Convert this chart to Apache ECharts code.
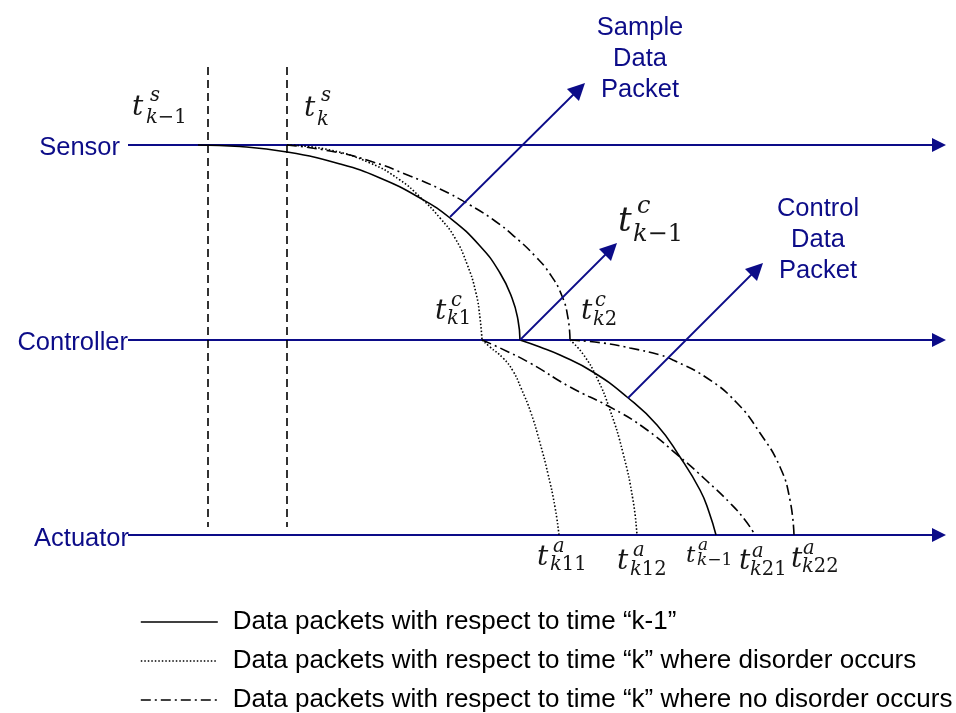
<!DOCTYPE html>
<html><head><meta charset="utf-8">
<script src="https://cdn.jsdelivr.net/npm/echarts@6/dist/echarts.min.js"></script>
<style>html,body{margin:0;padding:0;background:#fff}#c{width:956px;height:713px}</style>
</head><body><div id="c"></div>
<script>
// ---------- data (diagram units = time along x, lane position along y) ----------
const laneNames = ['Sensor', 'Controller', 'Actuator'];
const laneY = [145, 340, 535];
const laneSpan = [128, 946];
const sampleInstants = [208, 287];
const sampleSpan = [67, 527];

const legendNames = [
  'Data packets with respect to time “k-1”',
  'Data packets with respect to time “k” where disorder occurs',
  'Data packets with respect to time “k” where no disorder occurs'
];

// packet k-1 (solid)
const prevSensorToCtrl = [[198,145],[240,146.5],[287,152],[340,164],[380,178],[420,198],[450,218],[480,246],[500,273],[512,298],[518,320],[520,340]];
const prevCtrlToAct = [[520,340],[540,347],[560,355],[593,372],[627,397],[657,425],[680,457],[700,490],[709,512],[716,535]];
// packet k, disorder (dotted)
const disorderSensorToCtrl = [[287,145],[330,150],[370,163],[400,180],[420,197],[440,218],[455,238],[467,264],[476,293],[480,318],[482,340]];
const disorderCtrlToAct1 = [[482,340],[490,347],[503,358],[513,371],[521,388],[531,413],[540,443],[548,474],[555,507],[559,535]];
const disorderCtrlToAct2 = [[570,340],[583,354],[597,378],[610,410],[623,453],[633,500],[637,535]];
// packet k, no disorder (dash-dot)
const orderSensorToCtrl = [[287,145],[330,151],[370,161],[410,176],[440,189],[470,205],[495,221],[515,237],[535,256],[550,274],[562,296],[568,318],[570,340]];
const orderCtrlToAct1 = [[482,340],[500,348],[530,363],[570,387],[610,407],[643,427],[680,457],[707,481],[730,503],[745,520],[755,535]];
const orderCtrlToAct2 = [[570,340],[603,343],[630,348],[660,355],[673,360],[707,378],[737,403],[760,433],[780,467],[790,500],[794,535]];

// packet arrows: [from, to]
const packetArrows = [[[450,217],[585,83]], [[520,340],[617,243]], [[628,398],[763,263]]];

// time labels: main symbol, superscript, subscript, anchor positions [t, sup, sub]
const timeLabelSup = ['s','s','c','c','c','a','a','a','a','a'];
const timeLabelSub = ['k−1','k','k−1','k1','k2','k11','k12','k−1','k21','k22'];
const timeLabelT   = [[132,108],[304,109],[618,222],[435,312],[581,312],[537,558],[617,562],[686,556],[739,562],[791,560]];
const timeLabelSupPos = [[150,96],[321,96],[637,207],[451,301],[595,301],[553,547],[633,551],[698,546],[752,552],[803,549]];
const timeLabelSubPos = [[146,118],[317,120],[633,235],[447,319],[593,320],[550,565],[630,570],[697,561],[750,570],[802,567]];
const timeLabelSize = ['m','m','l','m','m','m','m','s','m','m'];

const laneLabelPos = [[120,148],[128,343],[129,539]];
const packetTexts = ['Sample\nData\nPacket', 'Control\nData\nPacket'];
const packetTextPos = [[640,59],[818,240]];

// ---------- styles ----------
const NAVY = '#0c0c88';
const INK = '#161616';
const SANS = '"Liberation Sans", Arial, sans-serif';
const SERIF = '"DejaVu Serif", serif';
const sizes = { s: [23, 17], m: [28, 19.5], l: [34, 24] };

function richSub(txt) {
  // italic letters, upright digits and minus
  return txt.replace(/([a-z])/g, '{i|$1}').replace(/([0-9−]+)/g, '{n|$1}');
}

const labelData = [];
laneNames.forEach((n, i) => labelData.push({
  value: laneLabelPos[i],
  label: { formatter: n, align: 'right', fontSize: 25.5, color: NAVY, fontFamily: SANS }
}));
packetTexts.forEach((t, i) => labelData.push({
  value: packetTextPos[i],
  label: { formatter: t, align: 'center', fontSize: 25.5, lineHeight: 31, color: NAVY, fontFamily: SANS }
}));
timeLabelT.forEach((p, i) => {
  const [big, small] = sizes[timeLabelSize[i]];
  labelData.push({ value: p, label: { formatter: 't', align: 'left', fontSize: big, fontStyle: 'italic', color: INK, fontFamily: SERIF } });
  labelData.push({ value: timeLabelSupPos[i], label: { formatter: timeLabelSup[i], align: 'left', fontSize: small, fontStyle: 'italic', color: INK, fontFamily: SERIF } });
  labelData.push({ value: timeLabelSubPos[i], label: {
    formatter: richSub(timeLabelSub[i]), align: 'left', color: INK,
    rich: { i: { fontSize: small, fontStyle: 'italic', fontFamily: SERIF, color: INK }, n: { fontSize: small, fontFamily: SERIF, color: INK } }
  } });
});

function curve(name, data, type) {
  return {
    type: 'line', name, data, smooth: 0.5, symbol: 'none', showSymbol: false, z: 5, silent: true,
    lineStyle: { color: '#000', width: 1.6, type },
    itemStyle: { color: '#000' }
  };
}
const SOLID = 'solid', DOTTED = [1.5, 2], DASHDOT = [10, 4, 2, 4];

function arrowEnd(from, to, len) {
  const dx = to[0] - from[0], dy = to[1] - from[1];
  const d = Math.hypot(dx, dy);
  return [to[0] - dx / d * len / 2, to[1] - dy / d * len / 2];
}

const option = {
  animation: false,
  grid: { left: 0, right: 0, top: 0, bottom: 0 },
  xAxis: { type: 'value', min: 0, max: 956, show: false },
  yAxis: { type: 'value', min: 0, max: 713, inverse: true, show: false },
  legend: {
    data: legendNames, orient: 'vertical', left: 140, top: 609, padding: 0,
    itemWidth: 77, itemHeight: 10, itemGap: 13, selectedMode: false,
    itemStyle: { opacity: 0 },
    lineStyle: { width: 1.6 },
    textStyle: { fontSize: 26, lineHeight: 26, color: '#000', fontFamily: SANS, padding: [0, 0, 0, 10] }
  },
  series: [
    {
      type: 'lines', coordinateSystem: 'cartesian2d', silent: true, z: 2,
      symbol: ['none', 'triangle'], symbolSize: [14, 14],
      lineStyle: { color: NAVY, width: 2, opacity: 1 },
      data: laneY.map(y => ({ coords: [[laneSpan[0], y], arrowEnd([laneSpan[0], y], [laneSpan[1], y], 14)] }))
    },
    {
      type: 'lines', coordinateSystem: 'cartesian2d', silent: true, z: 6,
      symbol: ['none', 'triangle'], symbolSize: [13, 17],
      lineStyle: { color: NAVY, width: 1.8, opacity: 1 },
      data: packetArrows.map(a => ({ coords: [a[0], arrowEnd(a[0], a[1], 17)] }))
    },
    {
      type: 'lines', coordinateSystem: 'cartesian2d', silent: true, z: 3,
      symbol: 'none',
      lineStyle: { color: '#000', width: 1.6, type: [8, 5], opacity: 1 },
      data: sampleInstants.map(x => ({ coords: [[x, sampleSpan[0]], [x, sampleSpan[1]]] }))
    },
    curve(legendNames[0], prevSensorToCtrl, SOLID),
    curve(legendNames[0], prevCtrlToAct, SOLID),
    curve(legendNames[1], disorderSensorToCtrl, DOTTED),
    curve(legendNames[1], disorderCtrlToAct1, DOTTED),
    curve(legendNames[1], disorderCtrlToAct2, DOTTED),
    curve(legendNames[2], orderSensorToCtrl, DASHDOT),
    curve(legendNames[2], orderCtrlToAct1, DASHDOT),
    curve(legendNames[2], orderCtrlToAct2, DASHDOT),
    {
      type: 'scatter', symbolSize: 0, silent: true, z: 10,
      itemStyle: { opacity: 1 },
      label: { show: true, position: 'inside', verticalAlign: 'middle' },
      data: labelData
    }
  ]
};
const chart = echarts.init(document.getElementById('c'));
chart.setOption(option);
</script>
</body></html>
